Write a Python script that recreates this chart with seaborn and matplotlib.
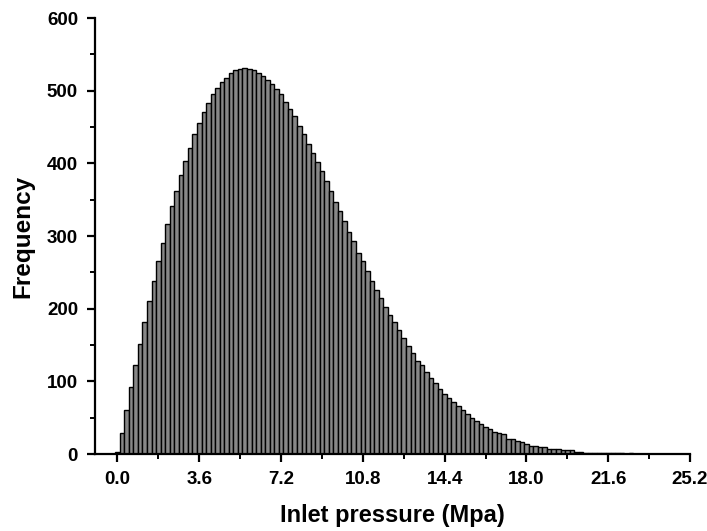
import numpy as np
import pandas as pd
import matplotlib
matplotlib.use("Agg")
import matplotlib.pyplot as plt
import seaborn as sns
from matplotlib.ticker import MultipleLocator, FormatStrFormatter

# Histogram counts, one per 0.2 MPa bin, bins centred at 0.0, 0.2, 0.4, ...
counts = [
    3, 29, 61, 92, 122, 152, 181, 211, 238, 265,
    290, 317, 341, 362, 384, 403, 421, 441, 456, 471,
    483, 495, 504, 512, 518, 524, 528, 530, 531, 530,
    528, 524, 520, 515, 509, 503, 495, 485, 475, 465,
    452, 441, 427, 414, 402, 389, 376, 362, 347, 334,
    320, 306, 293, 277, 265, 252, 238, 226, 215, 202,
    191, 181, 170, 159, 148, 139, 128, 122, 113, 104,
    98, 90, 83, 77, 71, 66, 61, 55, 50, 46,
    41, 37, 34, 30, 29, 27, 20, 20, 18, 17,
    14, 11, 11, 10, 10, 7, 7, 7, 5, 5,
    5, 3, 3, 2, 1, 1, 1, 1, 1, 1,
    1, 1, 0, 2,
]
bin_width = 0.2
centers = np.round(np.arange(len(counts)) * bin_width, 1)
xticks = [0.0, 3.6, 7.2, 10.8, 14.4, 18.0, 21.6, 25.2]
yticks = [0, 100, 200, 300, 400, 500, 600]

df = pd.DataFrame({"pressure": centers, "count": counts})
edges = [float(c - bin_width / 2) for c in centers] + [float(centers[-1] + bin_width / 2)]

sns.set_style("ticks")
plt.rcParams["font.family"] = ["Liberation Sans", "DejaVu Sans"]
plt.rcParams["font.weight"] = "bold"
plt.rcParams["text.color"] = "black"
plt.rcParams["axes.labelcolor"] = "black"
plt.rcParams["xtick.color"] = "black"
plt.rcParams["ytick.color"] = "black"

fig = plt.figure(figsize=(7.07, 5.31), dpi=100)
ax = fig.add_axes([0.134, 0.145, 0.842, 0.821])

sns.histplot(data=df, x="pressure", weights="count", bins=edges,
             color="#878787", edgecolor="black", linewidth=1.0,
             alpha=1.0, ax=ax)

ax.set_xlim(-1.0, 25.2)
ax.set_ylim(0, 600)
ax.set_xticks(xticks)
ax.set_yticks(yticks)
ax.xaxis.set_minor_locator(MultipleLocator(1.8))
ax.yaxis.set_minor_locator(MultipleLocator(50))
ax.xaxis.set_major_formatter(FormatStrFormatter("%.1f"))

for s in ["top", "right"]:
    ax.spines[s].set_visible(False)
for s in ["left", "bottom"]:
    ax.spines[s].set_linewidth(1.6)
    ax.spines[s].set_color("black")

ax.tick_params(axis="both", which="major", direction="out", length=6,
               width=1.6, colors="black", labelsize=13.5, pad=6)
ax.tick_params(axis="both", which="minor", direction="out", length=3.5,
               width=1.4, color="black")
for lab in ax.get_xticklabels() + ax.get_yticklabels():
    lab.set_fontweight("bold")

ax.set_xlabel("Inlet pressure (Mpa)", fontsize=17, fontweight="bold",
              labelpad=12, color="black")
ax.set_ylabel("Frequency", fontsize=17.5, fontweight="bold",
              labelpad=9, color="black")

fig.savefig("out.png", dpi=100)
